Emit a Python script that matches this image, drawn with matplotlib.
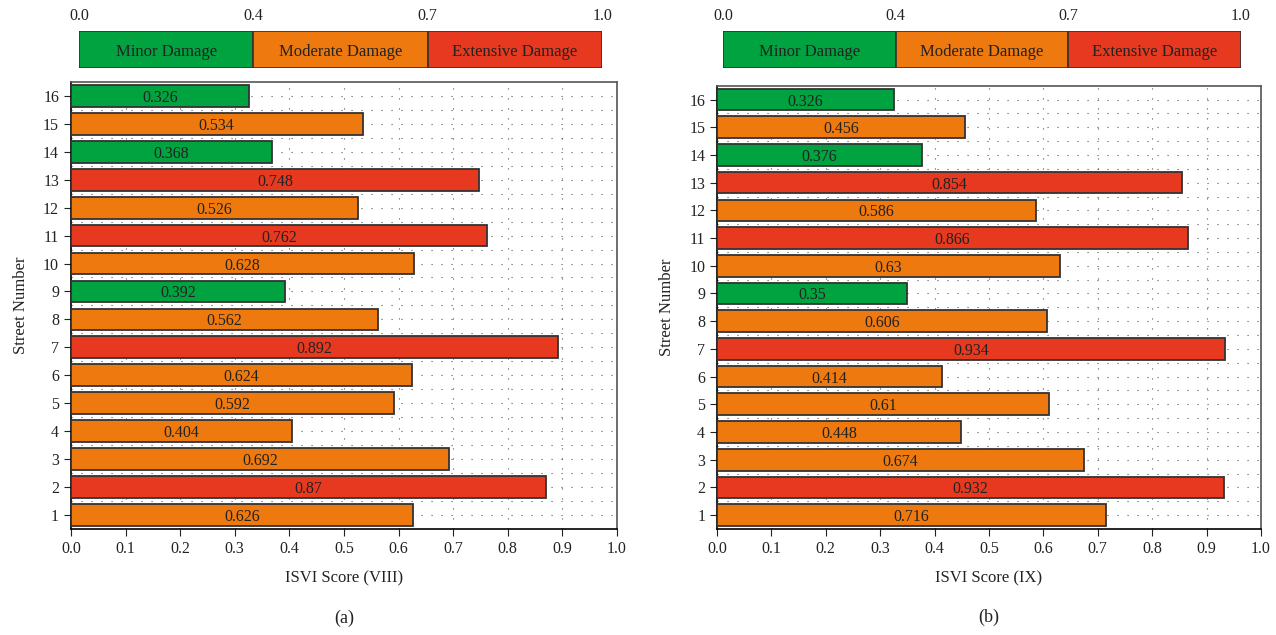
import matplotlib

matplotlib.use("Agg")
import matplotlib.pyplot as plt
import numpy as np

plt.rcParams["font.family"] = ["Liberation Serif", "DejaVu Serif"]

streets = list(range(1, 17))
scores_viii = [0.626, 0.87, 0.692, 0.404, 0.592, 0.624, 0.892, 0.562,
               0.392, 0.628, 0.762, 0.526, 0.748, 0.368, 0.534, 0.326]
scores_ix = [0.716, 0.932, 0.674, 0.448, 0.61, 0.414, 0.934, 0.606,
             0.35, 0.63, 0.866, 0.586, 0.854, 0.376, 0.456, 0.326]
damage_class = ["mod", "ext", "mod", "mod", "mod", "mod", "ext", "mod",
                "min", "mod", "ext", "mod", "ext", "min", "mod", "min"]
class_names = ["Minor Damage", "Moderate Damage", "Extensive Damage"]
class_bounds = ["0.0", "0.4", "0.7", "1.0"]
panel_labels = ["(a)", "(b)"]
xlabels = ["ISVI Score (VIII)", "ISVI Score (IX)"]

colors = {"min": "#00a33f", "mod": "#ee790e", "ext": "#e6391f"}
legend_colors = [colors["min"], colors["mod"], colors["ext"]]
edge = "#333333"
ink = "#222222"

fig = plt.figure(figsize=(12.76, 6.35), dpi=100)

panels = [
    # (bar axes rect, legend rect, data)
    ([0.0556, 0.167, 0.4279, 0.704], [0.0619, 0.893, 0.410, 0.058], scores_viii),
    ([0.5619, 0.167, 0.4263, 0.698], [0.5666, 0.893, 0.406, 0.058], scores_ix),
]

for i, (rect, leg_rect, scores) in enumerate(panels):
    ax = fig.add_axes(rect)
    bar_colors = [colors[c] for c in damage_class]
    ax.barh(streets, scores, height=0.78, color=bar_colors, edgecolor=edge,
            linewidth=1.3, zorder=3)
    for y, v in zip(streets, scores):
        ax.text(v / 2, y, f"{v:g}", ha="center", va="center_baseline",
                fontsize=11.5, color=ink, zorder=4)
    ax.set_xlim(0, 1.0)
    ax.set_ylim(0.5, 16.5)
    ticks = np.arange(0, 1.01, 0.1)
    ax.set_xticks(ticks)
    ax.set_xticklabels([f"{t:.1f}" for t in ticks])
    ax.set_yticks(streets)
    ax.set_yticks(np.arange(1.5, 16.5, 1.0), minor=True)
    ax.tick_params(axis="y", which="minor", length=0)
    ax.tick_params(axis="both", which="major", direction="out", length=5,
                   labelsize=11.5, colors=ink)
    ax.grid(True, axis="x", linestyle=(0, (1, 8)), color="#555555",
            linewidth=0.8, zorder=0)
    ax.grid(True, axis="y", which="both", linestyle=(0, (1, 8)),
            color="#555555", linewidth=0.8, zorder=0)
    for side in ["top", "right"]:
        ax.spines[side].set_color("#555555")
    for side in ax.spines:
        ax.spines[side].set_linewidth(1.2)
    ax.set_xlabel(xlabels[i], fontsize=12, color=ink, labelpad=10)
    ax.set_ylabel("Street Number", fontsize=12, color=ink, labelpad=10)
    ax.text(0.5, -0.2, panel_labels[i], transform=ax.transAxes,
            ha="center", va="center", fontsize=13, color=ink)

    lax = fig.add_axes(leg_rect)
    for k in range(3):
        lax.barh(0.5, 1, left=k, height=1, color=legend_colors[k],
                 edgecolor=edge, linewidth=1.2)
        lax.text(k + 0.5, 0.5, class_names[k], ha="center",
                 va="center_baseline", fontsize=12, color=ink)
    lax.set_xlim(0, 3)
    lax.set_ylim(0, 1)
    lax.xaxis.tick_top()
    lax.set_xticks(range(4))
    lax.set_xticklabels(class_bounds)
    lax.tick_params(axis="x", length=0, pad=5, labelsize=11.5, colors=ink)
    lax.set_yticks([])
    for side in lax.spines:
        lax.spines[side].set_visible(False)

fig.savefig("out.png", dpi=100)
